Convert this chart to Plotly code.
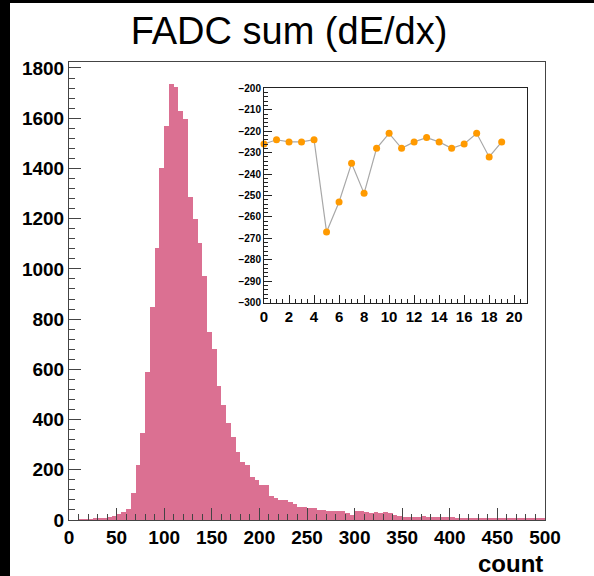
import plotly.graph_objects as go

# ---------------- data ----------------
bin_width = 5
bin_starts = list(range(0, 500, bin_width))
counts = [
    0, 0, 1, 3, 4, 5, 6, 9, 12, 16,            # 0-50
    24, 33, 45, 108, 220, 346, 589, 849, 1085, 1401,   # 50-100
    1568, 1737, 1726, 1628, 1598, 1287, 1198, 1103, 971, 747,  # 100-150
    680, 534, 456, 388, 330, 271, 231, 220, 172, 159,  # 150-200
    140, 138, 96, 89, 81, 80, 71, 62, 53, 52,   # 200-250
    48, 46, 41, 40, 36, 36, 37, 36, 26, 18,    # 250-300
    36, 34, 32, 29, 31, 29, 30, 28, 20, 14,    # 300-350
    10, 12, 13, 12, 14, 11, 13, 12, 11, 12,    # 350-400
    13, 9, 8, 8, 7, 9, 8, 6, 7, 6,             # 400-450
    6, 7, 5, 6, 6, 5, 6, 5, 6, 5,              # 450-500
]

inset_x = list(range(20))
inset_y = [-226, -224, -225, -225, -224, -267, -253, -235, -249, -228,
           -221, -228, -225, -223, -225, -228, -226, -221, -232, -225]

title_text = "FADC sum (dE/dx)"
xlabel_text = "count"

# ---------------- figure ----------------
W, H = 594, 576
L, R, T, B = 69, 49, 62, 56
plot_w = W - L - R
plot_h = H - T - B

bar_color = "rgb(219,112,146)"
font_family = "Liberation Sans, Arial, Helvetica, sans-serif"

centers = [s + bin_width / 2 for s in bin_starts]

fig = go.Figure()
fig.add_trace(go.Bar(
    x=centers, y=counts, width=bin_width,
    marker=dict(color=bar_color, line=dict(width=0)),
    xaxis="x", yaxis="y", showlegend=False,
))
fig.add_trace(go.Scatter(
    x=inset_x, y=inset_y, mode="lines+markers",
    line=dict(color="#a8a8a8", width=1.2),
    marker=dict(color="#ff9a00", size=7),
    cliponaxis=False,
    xaxis="x2", yaxis="y2", showlegend=False,
))

axis_col = "#444444"
tickfont_main = dict(family=font_family, size=19, color="black", weight="bold")

fig.update_layout(
    width=W, height=H,
    margin=dict(l=L, r=R, t=T, b=B, pad=0),
    paper_bgcolor="white", plot_bgcolor="white",
    bargap=0,
    font=dict(family=font_family, color="black"),
    title=dict(text=title_text, x=289 / W, xref="container", xanchor="center",
               y=1 - 31 / H, yref="container", yanchor="middle",
               font=dict(family=font_family, size=38, color="black")),
    xaxis=dict(
        range=[0, 500], domain=[0, 1],
        showline=True, mirror=True, linecolor=axis_col, linewidth=1,
        showgrid=False, zeroline=False,
        ticks="inside", ticklen=12, tickcolor=axis_col, tickwidth=1,
        dtick=50, tick0=0, tickfont=tickfont_main,
        minor=dict(ticks="inside", ticklen=6, dtick=10, tickcolor=axis_col, showgrid=False),
    ),
    yaxis=dict(
        range=[0, max(counts) * 1.05], domain=[0, 1],
        showline=True, mirror=True, linecolor=axis_col, linewidth=1,
        showgrid=False, zeroline=False,
        ticks="inside", ticklen=12, tickcolor=axis_col, tickwidth=1,
        dtick=200, tick0=0, tickfont=tickfont_main,
        minor=dict(ticks="inside", ticklen=6, dtick=40, tickcolor=axis_col, showgrid=False),
    ),
    xaxis2=dict(
        range=[0, 21], domain=[(264 - L) / plot_w, (526.7 - L) / plot_w],
        anchor="y2",
        showline=True, mirror=True, linecolor="#222222", linewidth=1,
        showgrid=False, zeroline=False,
        ticks="inside", ticklen=8, tickcolor="#222222",
        dtick=2, tick0=0,
        tickfont=dict(family=font_family, size=15, color="black", weight="bold"),
        minor=dict(ticks="inside", ticklen=4, dtick=0.5, tickcolor="#222222", showgrid=False),
    ),
    yaxis2=dict(
        range=[-300, -200], domain=[(H - B - 302.7) / plot_h, (H - B - 88.3) / plot_h],
        anchor="x2",
        showline=True, mirror=True, linecolor="#222222", linewidth=1,
        showgrid=False, zeroline=False,
        ticks="inside", ticklen=8, tickcolor="#222222",
        dtick=10, tick0=-300,
        tickfont=dict(family=font_family, size=10, color="black", weight="bold"),
        minor=dict(ticks="inside", ticklen=4, dtick=2, tickcolor="#222222", showgrid=False),
    ),
    annotations=[dict(
        text=xlabel_text, xref="paper", yref="paper",
        x=1, xanchor="right", y=(H - B - 563) / plot_h, yanchor="middle",
        showarrow=False,
        font=dict(family=font_family, size=24, color="black", weight="bold"),
    )],
    shapes=[
        dict(type="rect", xref="paper", yref="paper",
             x0=-L / plot_w - 0.05, x1=(10 - L) / plot_w,
             y0=-B / plot_h - 0.05, y1=(H - B) / plot_h + 0.2,
             fillcolor="black", line=dict(width=0), layer="below"),
        dict(type="rect", xref="paper", yref="paper",
             x0=-L / plot_w - 0.05, x1=1 + R / plot_w + 0.05,
             y0=(H - B - 3) / plot_h, y1=(H - B) / plot_h + 0.2,
             fillcolor="black", line=dict(width=0), layer="below"),
    ],
)

fig.write_html(
    "out.html",
    config={"displayModeBar": False},
    post_script="document.body.style.margin='0';document.body.style.overflow='hidden';",
)
